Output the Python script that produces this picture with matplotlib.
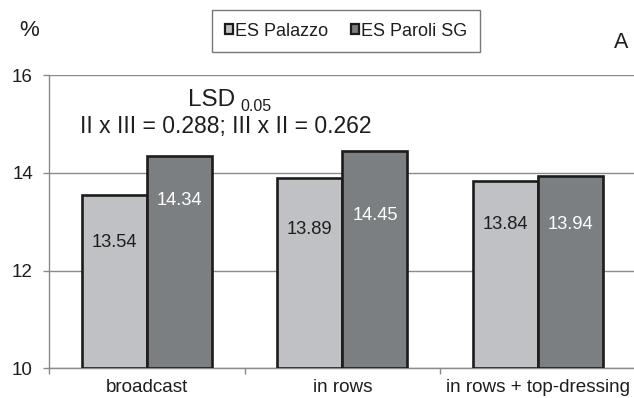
import matplotlib
matplotlib.use("Agg")
import matplotlib.pyplot as plt
from matplotlib.patches import Patch
import numpy as np

plt.rcParams['font.family'] = ['Liberation Sans', 'DejaVu Sans']

# Data
categories = ["broadcast", "in rows", "in rows + top-dressing"]
series_names = ["ES Palazzo", "ES Paroli SG"]
palazzo = [13.54, 13.89, 13.84]
paroli = [14.34, 14.45, 13.94]
y_ticks = [10, 12, 14, 16]

light = "#c0c1c4"
dark = "#7b7f82"
edge = "#1c1c1c"
grey = "#8a8a8a"
txt = "#1e1e1e"

W, H = 634, 398
fig = plt.figure(figsize=(W / 100, H / 100), dpi=100)
fig.patch.set_facecolor("white")

# axes frame in pixel terms
x0, x1 = 49.3, 635.5
y_top, y_bot = 75.0, 368.3
ax = fig.add_axes([x0 / W, 1 - y_bot / H, (x1 - x0) / W, (y_bot - y_top) / H])

x = np.arange(len(categories))
bw = 0.3325
ax.bar(x - bw / 2, np.array(palazzo) - 10, bw, bottom=10, color=light,
       edgecolor=edge, linewidth=1.9, zorder=3)
ax.bar(x + bw / 2, np.array(paroli) - 10, bw, bottom=10, color=dark,
       edgecolor=edge, linewidth=1.9, zorder=3)

# value labels inside the bars
drop_light = [0.97, 1.05, 0.90]
drop_dark = [0.90, 1.33, 1.00]
for i in range(len(categories)):
    ax.text(x[i] - bw / 2, palazzo[i] - drop_light[i], f"{palazzo[i]:.2f}",
            ha="center", va="center", fontsize=13.2, color=txt, zorder=4)
    ax.text(x[i] + bw / 2, paroli[i] - drop_dark[i], f"{paroli[i]:.2f}",
            ha="center", va="center", fontsize=13.2, color="white", zorder=4)

ax.set_xlim(-0.5, len(categories) - 0.5)
ax.set_ylim(10, 16)
ax.set_yticks(y_ticks)
ax.set_yticklabels([str(t) for t in y_ticks])
ax.yaxis.grid(True, color=grey, linewidth=1.0, zorder=0)
ax.set_axisbelow(True)

ax.set_xticks(x)
ax.set_xticklabels(categories)
ax.set_xticks(np.arange(-0.5, len(categories), 1.0), minor=True)
ax.tick_params(axis="x", which="major", length=0, pad=8, labelsize=13.6, labelcolor=txt)
ax.tick_params(axis="x", which="minor", length=4, width=1.0, color=grey, direction="out")
ax.tick_params(axis="y", length=4.5, width=1.0, color=grey, direction="out",
               pad=7.3, labelsize=13.5, labelcolor=txt)

for s in ["top", "right"]:
    ax.spines[s].set_visible(False)
for s in ["left", "bottom"]:
    ax.spines[s].set_color(grey)
    ax.spines[s].set_linewidth(1.0)

# LSD annotation
def px(xp, yp):
    return xp / W, 1 - yp / H

fig.text(*px(188, 106), "LSD", fontsize=17.5, color=txt, ha="left", va="baseline")
fig.text(*px(240, 111), "0.05", fontsize=11.5, color=txt, ha="left", va="baseline")
fig.text(*px(80, 133), "II x III = 0.288; III x II = 0.262", fontsize=16.5,
         color=txt, ha="left", va="baseline")

# axis unit and panel letter
fig.text(*px(29, 31), "%", fontsize=16, color=txt, ha="center", va="center")
fig.text(*px(621, 42), "A", fontsize=15.5, color=txt, ha="center", va="center")

# legend
handles = [Patch(facecolor=light, edgecolor=edge, linewidth=1.6),
           Patch(facecolor=dark, edgecolor=edge, linewidth=1.6)]
leg = fig.legend(handles, series_names, ncol=2, loc="center",
                 bbox_to_anchor=(346 / W, 1 - 31 / H), fontsize=13,
                 frameon=True, fancybox=False, edgecolor="#555555",
                 handlelength=0.45, handleheight=0.45, handletextpad=0.1,
                 columnspacing=1.3, borderpad=0.7, borderaxespad=0)
leg.get_frame().set_linewidth(1.0)
for t in leg.get_texts():
    t.set_color(txt)

fig.savefig("out.png", dpi=100)
